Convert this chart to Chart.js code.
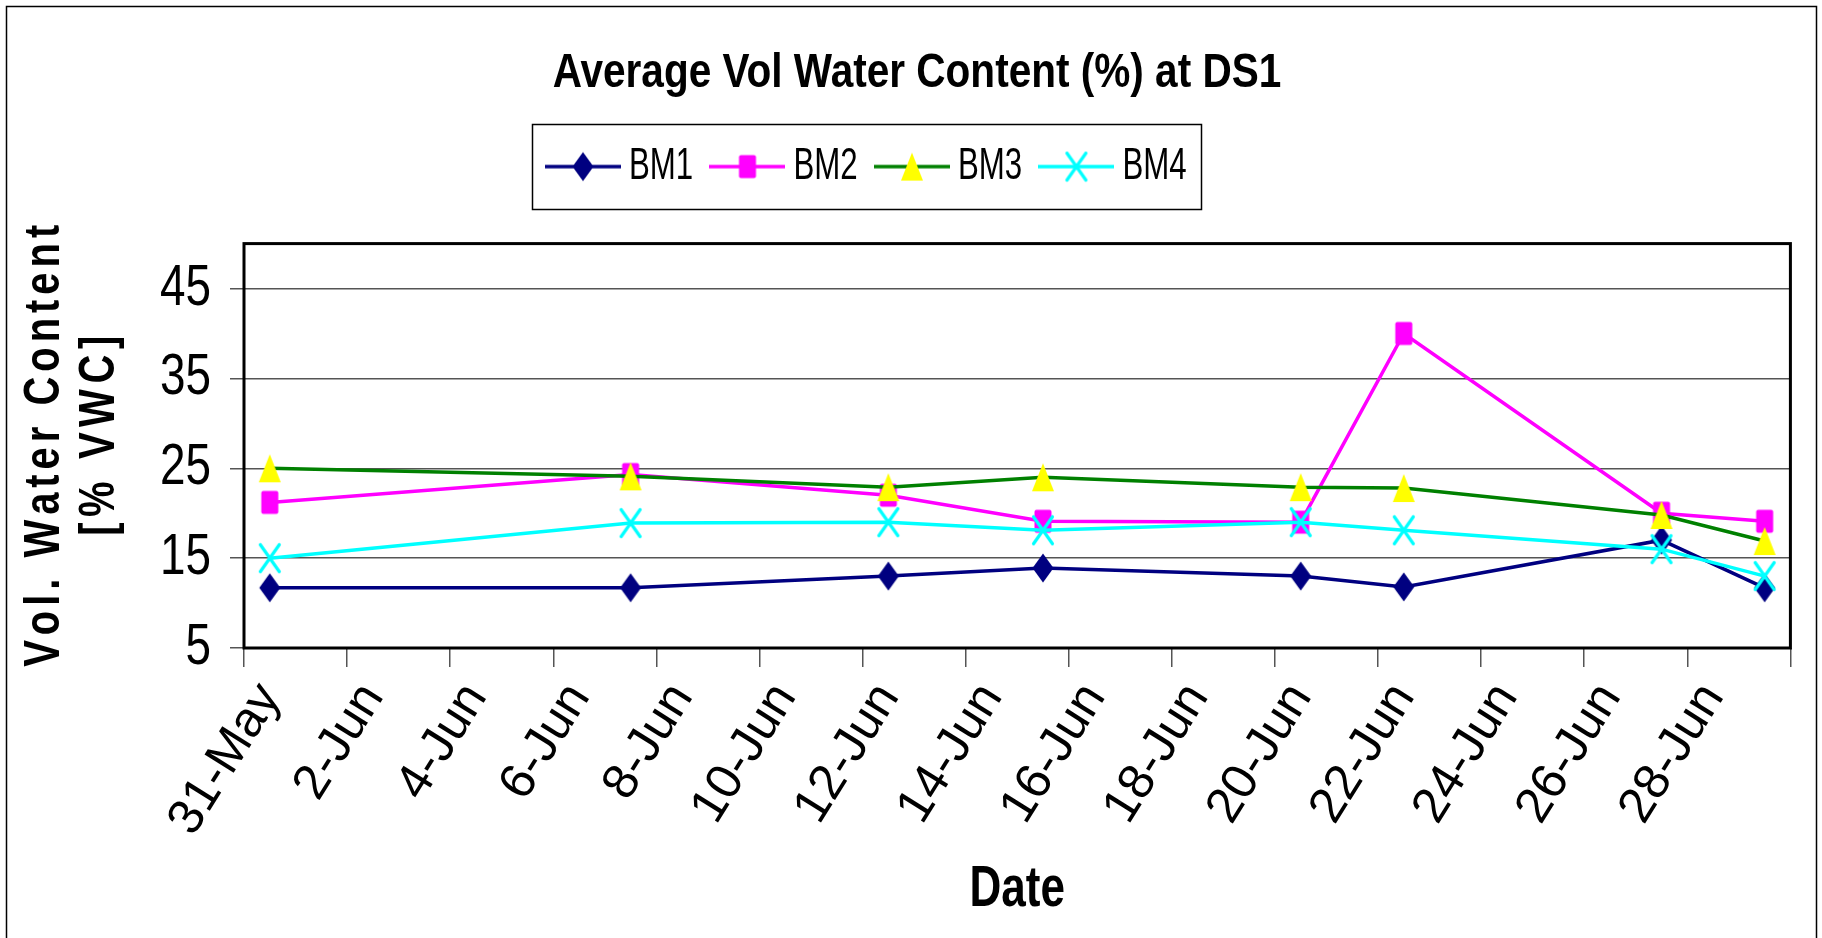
<!DOCTYPE html>
<html>
<head>
<meta charset="utf-8">
<script src="https://cdn.jsdelivr.net/npm/chart.js@4.4.1/dist/chart.umd.min.js"></script>
<style>
html,body{margin:0;padding:0;background:#fff;}
#wrap{width:1822px;height:938px;position:relative;}
canvas{display:block;}
</style>
</head>
<body>
<div id="wrap"><canvas id="c" width="1822" height="938"></canvas></div>
<script>
// ---- data ----
const dayLabels = ['31-May','1-Jun','2-Jun','3-Jun','4-Jun','5-Jun','6-Jun','7-Jun','8-Jun','9-Jun',
  '10-Jun','11-Jun','12-Jun','13-Jun','14-Jun','15-Jun','16-Jun','17-Jun','18-Jun','19-Jun',
  '20-Jun','21-Jun','22-Jun','23-Jun','24-Jun','25-Jun','26-Jun','27-Jun','28-Jun','29-Jun'];
const sampleDates = ['31-May','7-Jun','12-Jun','15-Jun','20-Jun','22-Jun','27-Jun','29-Jun'];
const seriesNames = ['BM1','BM2','BM3','BM4'];
const bm1 = [11.7, 11.7, 13.0, 13.9, 13.0, 11.8, 17.0, 11.7];
const bm2 = [21.2, 24.3, 22.0, 19.1, 19.0, 40.0, 20.0, 19.1];
const bm3 = [25.0, 24.1, 22.9, 24.0, 22.9, 22.8, 19.8, 16.9];
const bm4 = [15.0, 18.9, 19.0, 18.1, 19.0, 18.1, 16.0, 13.0];
const yTicks = [5, 15, 25, 35, 45];
const chartTitle = 'Average Vol Water Content (%) at DS1';
const yTitle = ['Vol. Water Content', '[% VWC]'];
const xTitle = 'Date';

// ---- styles ----
const SANS = "'Liberation Sans', Arial, sans-serif";
const lineColors = ['#000080', '#FF00FF', '#008000', '#00FFFF'];
const markerColors = ['#000080', '#FF00FF', '#FFFF00', '#00FFFF'];
const markerKinds = ['diamond', 'square', 'triangle', 'cross'];
const Y_TITLE_LEN = [442, 200];     // drawn length of each y-title line (px)
const Y_TITLE_SHIFT = [0, 10];      // shift along the text direction (px)

function drawMarker(g, kind, color, cx, cy) {
  g.fillStyle = color; g.strokeStyle = color;
  if (kind === 'diamond') {
    const w = 21, h = 29;
    g.beginPath(); g.moveTo(cx, cy - h/2); g.lineTo(cx + w/2, cy); g.lineTo(cx, cy + h/2); g.lineTo(cx - w/2, cy); g.closePath(); g.fill();
  } else if (kind === 'square') {
    const w = 17, h = 23;
    g.beginPath(); g.roundRect(cx - w/2, cy - h/2, w, h, 2); g.fill();
  } else if (kind === 'triangle') {
    const w = 22, h = 28;
    g.beginPath(); g.moveTo(cx, cy - h/2); g.lineTo(cx + w/2, cy + h/2); g.lineTo(cx - w/2, cy + h/2); g.closePath(); g.fill();
  } else {
    const w = 19, h = 27;
    g.lineWidth = 3.2; g.lineCap = 'round';
    g.beginPath(); g.moveTo(cx - w/2, cy - h/2); g.lineTo(cx + w/2, cy + h/2);
    g.moveTo(cx + w/2, cy - h/2); g.lineTo(cx - w/2, cy + h/2); g.stroke();
  }
}
function markerCanvas(i) {
  const c = document.createElement('canvas'); c.width = 26; c.height = 32;
  drawMarker(c.getContext('2d'), markerKinds[i], markerColors[i], 13, 16);
  return c;
}
const LEG_W = 76, LEG_BOX = 48, LEG_FONT = 44, LEG_PAD = 4, LEG_START = 559, LEG_EXTRA = 45, LEG_SX = 0.71;
function legendCanvas(i) {
  const c = document.createElement('canvas'); c.width = LEG_W; c.height = 32;
  const g = c.getContext('2d');
  g.strokeStyle = lineColors[i]; g.lineWidth = 3.5;
  g.beginPath(); g.moveTo(0, 16); g.lineTo(LEG_W, 16); g.stroke();
  drawMarker(g, markerKinds[i], markerColors[i], LEG_W/2, 16);
  return c;
}

const seriesValues = [bm1, bm2, bm3, bm4];
const datasets = seriesNames.map((name, i) => ({
  label: name,
  data: sampleDates.map((d, k) => ({x: d, y: seriesValues[i][k]})),
  borderColor: lineColors[i],
  backgroundColor: markerColors[i],
  borderWidth: 3.5,
  pointStyle: markerCanvas(i),
  pointRadius: 10,
  tension: 0,
  order: 4 - i
}));
const legendImgs = seriesNames.map((n, i) => legendCanvas(i));

const origFill = CanvasRenderingContext2D.prototype.fillText;
// draw text horizontally condensed (the reference uses a narrow face)
function condensed(ctx, sx, dx, fn) {
  ctx.fillText = function (t, x, y, mw) {
    this.save(); this.translate(x, y); this.scale(sx, 1);
    if (mw === undefined || mw === null) origFill.call(this, t, 0, 0); else origFill.call(this, t, 0, 0, mw / sx);
    this.restore();
  };
  ctx.save(); ctx.translate(dx, 0);
  try { fn(); } finally { ctx.restore(); delete ctx.fillText; }
}
function patch(obj, name, sx, dx) {
  if (!obj || obj['__p_' + name]) return;
  const od = obj[name];
  obj[name] = function (...a) { condensed(this.ctx, sx, dx, () => od.apply(this, a)); };
  obj['__p_' + name] = true;
}
// letter-spaced, condensed drawing for the y-axis title lines
function spacedFill(ctx, t, x, y, sx, target, shift) {
  const chars = Array.from(t);
  const widths = chars.map(ch => ctx.measureText(ch).width * sx);
  const natural = widths.reduce((a, b) => a + b, 0);
  const gap = chars.length > 1 ? (target - natural) / (chars.length - 1) : 0;
  ctx.save(); ctx.textAlign = 'left';
  let cx = x - target / 2 + shift;
  chars.forEach((ch, k) => {
    ctx.save(); ctx.translate(cx, y); ctx.scale(sx, 1); origFill.call(ctx, ch, 0, 0); ctx.restore();
    cx += widths[k] + gap;
  });
  ctx.restore();
}
function patchYTitle(scale) {
  if (!scale || scale.__pyt) return;
  const od = scale.drawTitle;
  scale.drawTitle = function () {
    const ctx = this.ctx;
    ctx.fillText = function (t, x, y) {
      const k = yTitle.indexOf(t);
      const target = k >= 0 ? Y_TITLE_LEN[k] : this.measureText(t).width;
      spacedFill(this, t, x, y, 0.8, target, k >= 0 ? Y_TITLE_SHIFT[k] : 0);
    };
    try { od.call(this); } finally { delete ctx.fillText; }
  };
  scale.__pyt = true;
}

const helpers = {
  id: 'helpers',
  beforeLayout(chart) {
    const lg = chart.legend;
    if (lg && !lg.__patched) {
      const f = lg.fit;
      lg.fit = function () { f.call(this); this.height += LEG_EXTRA; };
      lg.__patched = true;
    }
  },
  afterLayout(chart) {
    const lg = chart.legend;
    if (lg && lg.lineWidths) {
      const p = lg.options.labels.padding;
      const startX = (lg.left + p + lg.right - lg.lineWidths[0]) / 2;
      const dx = LEG_START - startX;
      lg.left += dx; lg.right += dx;
    }
    patch(chart.titleBlock, 'draw', 0.845, 19);
    patch(lg, 'draw', LEG_SX, 0);
    patch(chart.scales.y, 'drawLabels', 0.79, 0);
    patchYTitle(chart.scales.y);
    patch(chart.scales.x, 'drawTitle', 0.76, 0);
  },
  beforeDatasetsDraw(chart) {
    const {ctx, chartArea: a} = chart;
    ctx.save();
    ctx.strokeStyle = '#000'; ctx.lineWidth = 3;
    ctx.strokeRect(a.left, a.top, a.right - a.left, a.bottom - a.top);
    ctx.restore();
  },
  afterDraw(chart) {
    const ctx = chart.ctx; const lg = chart.legend;
    ctx.save();
    if (lg && lg.lineWidths) {
      const p = lg.options.labels.padding;
      const lw = lg.lineWidths[0];
      const startX = (lg.left + p + lg.right - lw) / 2;
      const n = chart.data.datasets.length;
      const pitch = lw / n;
      const tw = pitch - p - LEG_BOX - LEG_FONT / 2;
      const cy = lg.top + p + LEG_FONT / 2;
      const left = startX + LEG_BOX / 2 - LEG_W / 2 - 13;
      const lastText = startX + (n - 1) * pitch + LEG_BOX + LEG_FONT / 2;
      const right = lastText + tw * LEG_SX + 14;
      ctx.strokeStyle = '#000'; ctx.lineWidth = 1.5;
      ctx.strokeRect(Math.round(left) + 0.5, Math.round(cy - 43) + 0.5, Math.round(right - left), 85);
    }
    ctx.strokeStyle = '#000'; ctx.lineWidth = 1.5;
    ctx.beginPath();
    ctx.moveTo(6.5, 938); ctx.lineTo(6.5, 6.5); ctx.lineTo(1816.5, 6.5); ctx.lineTo(1816.5, 938);
    ctx.stroke();
    ctx.restore();
  }
};

Chart.defaults.color = '#000';
new Chart(document.getElementById('c'), {
  type: 'line',
  data: { labels: dayLabels, datasets },
  options: {
    responsive: false,
    animation: false,
    events: [],
    layout: { padding: { left: 3, right: 29, top: 0, bottom: 0 } },
    plugins: {
      tooltip: { enabled: false },
      title: {
        display: true, text: chartTitle, color: '#000',
        font: { family: SANS, size: 48, weight: 'bold', lineHeight: 1.2 },
        padding: { top: 45, bottom: 38 }
      },
      legend: {
        display: true, position: 'top',
        labels: {
          usePointStyle: true, pointStyleWidth: LEG_BOX, padding: LEG_PAD,
          font: { family: SANS, size: LEG_FONT }, color: '#000',
          generateLabels: (chart) => chart.data.datasets.map((ds, i) => ({
            text: ds.label, pointStyle: legendImgs[i], fillStyle: markerColors[i],
            strokeStyle: 'rgba(0,0,0,0)', lineWidth: 0, hidden: false, datasetIndex: i, fontColor: '#000'
          }))
        }
      }
    },
    scales: {
      x: {
        type: 'category', labels: dayLabels, offset: true,
        afterFit: (s) => { s.height = 290; },
        border: { display: false },
        grid: {
          offset: true, drawOnChartArea: false, drawTicks: true, tickLength: 19, lineWidth: 1.5,
          color: (c) => (c.index === undefined || c.index % 2 === 0) ? '#555' : 'rgba(0,0,0,0)'
        },
        ticks: {
          autoSkip: false, minRotation: 58, maxRotation: 58, padding: 6, color: '#000',
          font: { family: SANS, size: 50 },
          callback: (v, i) => (i % 2 === 0 ? dayLabels[i] : '')
        },
        title: {
          display: true, text: xTitle, color: '#000',
          font: { family: SANS, size: 58, weight: 'bold', lineHeight: 1.2 },
          padding: { top: 0, bottom: 13 }
        }
      },
      y: {
        min: 5, max: 50,
        afterBuildTicks: (s) => { s.ticks = yTicks.map(v => ({ value: v })); },
        afterFit: (s) => { s.width = 241; },
        border: { display: false },
        grid: { color: '#555', lineWidth: 1.5, drawTicks: true, tickLength: 14 },
        ticks: { padding: 19, color: '#000', font: { family: SANS, size: 58 } },
        title: {
          display: true, text: yTitle, color: '#000',
          font: { family: SANS, size: 50, weight: 'bold', lineHeight: 1.1 },
          padding: { top: 15, bottom: 0 }
        }
      }
    }
  },
  plugins: [helpers]
});
</script>
</body>
</html>
